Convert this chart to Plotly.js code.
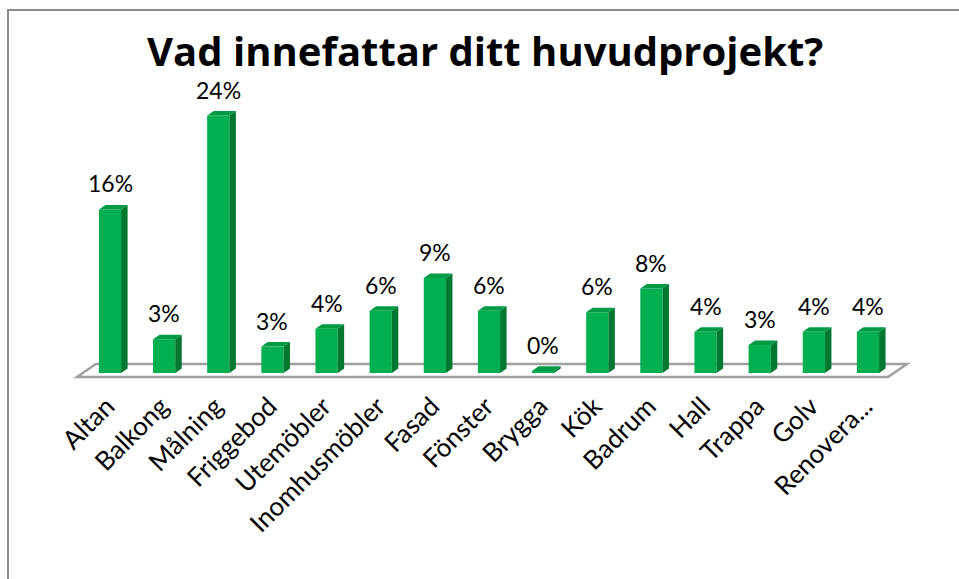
<!DOCTYPE html>
<html>
<head>
<meta charset="utf-8">
<script src="https://cdn.plot.ly/plotly-3.0.1.min.js"></script>
<style>
html,body{margin:0;padding:0;background:#fff;}
#wrap{position:relative;width:959px;height:579px;}
#chart{width:959px;height:579px;}
#frame{position:absolute;left:7px;top:9px;right:-2px;bottom:-2px;border-top:2px solid #8c8c8c;border-left:2px solid #8c8c8c;pointer-events:none;}
</style>
</head>
<body>
<div id="wrap"><div id="chart"></div><div id="frame"></div></div>
<script>
const categories = ["Altan","Balkong","Målning","Friggebod","Utemöbler","Inomhusmöbler","Fasad","Fönster","Brygga","Kök","Badrum","Hall","Trappa","Golv","Renovera..."];
const values = [15.5, 3.2, 24.4, 2.5, 4.2, 5.9, 9.0, 5.9, 0.2, 5.75, 8.0, 3.9, 2.65, 3.9, 3.9];
const titleText = "Vad innefattar ditt huvudprojekt?";

const FONT = "Lato, Calibri, 'Open Sans', sans-serif";
const TITLE_FONT = "'Open Sans', Calibri, sans-serif";
const idx = categories.map((c, i) => i);
const W = 0.41;      // bar width in category units
const DX = 0.12;     // depth offset x (units)
const DY = 0.43;     // depth offset y (units)

// side and top faces derived from values
const sideX = [], sideY = [], topX = [], topY = [];
idx.forEach(i => {
  const v = values[i];
  const r = i + W / 2, l = i - W / 2;
  sideX.push(r, r + DX, r + DX, r, r, null);
  sideY.push(0, DY, v + DY, v, 0, null);
  topX.push(l, l + DX, r + DX, r, l, null);
  topY.push(v, v + DY, v + DY, v, v, null);
});

const traces = [
  {type: "bar", x: idx, y: values, width: W, marker: {color: "#00b050", line: {width: 0}}, hoverinfo: "skip"},
  {type: "scatter", mode: "lines", x: sideX, y: sideY, fill: "toself", fillcolor: "#00782f", line: {width: 0, color: "#00782f"}, hoverinfo: "skip"},
  {type: "scatter", mode: "lines", x: topX, y: topY, fill: "toself", fillcolor: "#009a44", line: {width: 0, color: "#009a44"}, hoverinfo: "skip"}
];

const annotations = idx.map(i => ({
  x: i, y: values[i], xref: "x", yref: "y",
  text: Math.round(values[i]) + "%",
  showarrow: false, yshift: 26,
  font: {family: FONT, size: 23, color: "#000"}
}));

const n = categories.length;
const layout = {
  width: 959, height: 579,
  margin: {l: 60, r: 39, t: 90, b: 194},
  paper_bgcolor: "#fff", plot_bgcolor: "rgba(0,0,0,0)",
  showlegend: false,
  title: {text: "<b>" + titleText + "</b>", x: 0.506, xanchor: "center", y: 0.91, yanchor: "middle",
          font: {family: TITLE_FONT, size: 40, color: "#000"}},
  xaxis: {range: [-0.9235, 14.961], tickvals: idx, ticktext: categories, tickangle: -45,
          showgrid: false, zeroline: false, showline: false, ticks: "",
          ticklabelshift: -3,
          tickfont: {family: FONT, size: 26, color: "#000"}, fixedrange: true},
  yaxis: {range: [-1.137, 26.82], visible: false, fixedrange: true},
  shapes: [{
    type: "path", xref: "x", yref: "y", layer: "below",
    path: `M -0.61 -0.38 L ${n - 1 + 0.37} -0.38 L ${n - 1 + 0.72} 0.85 L -0.26 0.85 Z`,
    line: {color: "#a0a0a0", width: 2.5}, fillcolor: "#fff"
  }],
  annotations: annotations
};

Plotly.newPlot("chart", traces, layout, {displayModeBar: false, staticPlot: true});
</script>
</body>
</html>
